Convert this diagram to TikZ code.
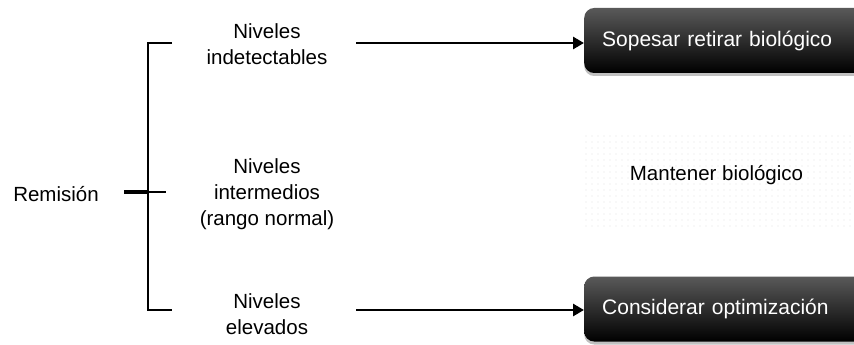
\documentclass[tikz,border=0pt]{standalone}
\usepackage{fontspec}
\setmainfont{Liberation Sans}
\usetikzlibrary{arrows.meta,shadows}
\begin{document}
\begin{tikzpicture}[x=1pt,y=-1pt,
  lbl/.style={font=\fontsize{20.5}{26}\selectfont, align=center, inner sep=0pt, anchor=base},
  blackbox/.style={rounded corners=10pt, top color=black!65, middle color=black, bottom color=black,
     draw=none, text=white, font=\fontsize{21}{26}\selectfont, anchor=west, inner xsep=18pt,
     text width=250pt, align=left, minimum height=65pt,
     drop shadow={shadow xshift=0pt, shadow yshift=-3pt, opacity=0.35, fill=black!70}},
  arr/.style={line width=2.8pt, -{Triangle[length=11pt,width=12pt]}},
  brk/.style={line width=2.2pt}]
\useasboundingbox (0,0) rectangle (854,345);
\clip (0,0) rectangle (854,345);
\fill[white] (0,0) rectangle (854,345);

% middle dotted box
\node[draw=none, fill=white, minimum width=271pt, minimum height=95pt, inner sep=0pt] (b2bg) at (718.5,180.5) {};
\foreach \i in {0,...,45}{
  \foreach \j in {0,...,15}{
    \fill[gray!22] ({586+6*\i},{136+6*\j}) circle (0.7);
  }
}
\node[lbl] (b2) at (716.5,180) {Mantener biológico};

% black boxes
\node[blackbox] (b1) at (584,40.5) {Sopesar retirar biológico};
\node[blackbox] (b3) at (584,309) {Considerar optimización};

% left labels
\node[lbl] (rem) at (56,201) {Remisión};
\node[lbl] (n1) at (267,65) {Niveles\\indetectables};
\node[lbl] (n2) at (267,225) {Niveles\\intermedios\\(rango normal)};
\node[lbl] (n3) at (267,334) {Niveles\\elevados};

% bracket
\coordinate (bt) at (148,43);
\coordinate (bb) at (148,310);
\coordinate (btr) at (172,43);
\coordinate (bbr) at (172,310);
\coordinate (tl) at (124,192);
\coordinate (tm) at (148,192);
\coordinate (tr) at (166,192);
\draw[brk] (btr) -- (bt) -- (bb) -- (bbr);
\draw[line width=3.2pt] (tl) -- (tm);
\draw[brk] (tm) -- (tr);

% arrows
\coordinate (a1) at (356,43);
\coordinate (a3) at (356,310);
\draw[arr] (a1) -- (b1.west |- a1);
\draw[arr] (a3) -- (b3.west |- a3);
\end{tikzpicture}
\end{document}
